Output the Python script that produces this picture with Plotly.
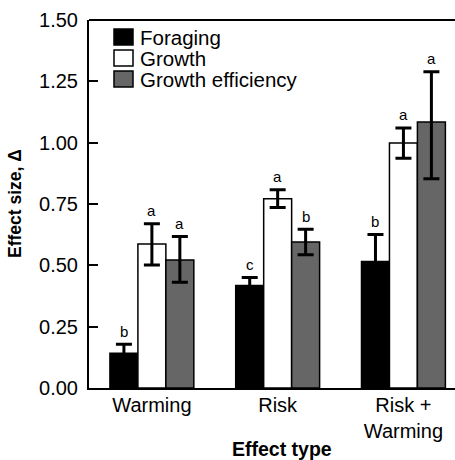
import plotly.graph_objects as go

categories = ["Warming", "Risk", "Risk +<br>Warming"]
series_names = ["Foraging", "Growth", "Growth efficiency"]
foraging = [0.142, 0.418, 0.516]
foraging_err = [0.036, 0.032, 0.110]
foraging_err_minus = [0.036, 0.032, 0.110]
growth = [0.587, 0.771, 0.999]
growth_err = [0.082, 0.037, 0.061]
growth_err_minus = [0.086, 0.035, 0.063]
efficiency = [0.522, 0.595, 1.084]
efficiency_err = [0.096, 0.052, 0.205]
efficiency_err_minus = [0.091, 0.052, 0.231]
letters_foraging = ["b", "c", "b"]
letters_growth = ["a", "a", "a"]
letters_efficiency = ["a", "b", "a"]
y_ticks = [0, 0.25, 0.5, 0.75, 1.0, 1.25, 1.5]

colors = ["#000000", "#ffffff", "#666666"]
FONT = "Liberation Sans, Arial, sans-serif"

# plot-area geometry (pixels)
W, H = 455, 460
ML, MT, MB, MR = 89, 20, 72, 0
PW = W - ML - MR
PH = H - MT - MB

def px_x(p):
    return (p - ML) / PW

def px_y(p):
    return (H - MB - p) / PH

xs = list(range(len(categories)))
fig = go.Figure()
series = [(foraging, foraging_err, foraging_err_minus),
          (growth, growth_err, growth_err_minus),
          (efficiency, efficiency_err, efficiency_err_minus)]
for name, (vals, errs, errs_m), col in zip(series_names, series, colors):
    fig.add_trace(go.Bar(
        x=xs, y=vals, name=name,
        marker=dict(color=col, line=dict(color="#000000", width=1.5)),
        error_y=dict(type="data", symmetric=False, array=errs, arrayminus=errs_m,
                     visible=True, color="#000000", thickness=3, width=8),
        showlegend=False,
    ))

bargap = 0.333
bw = (1 - bargap) / 3
annotations = []
letter_sets = [letters_foraging, letters_growth, letters_efficiency]
for k, ((vals, errs, _), lets) in enumerate(zip(series, letter_sets)):
    for i in xs:
        annotations.append(dict(
            x=i + (k - 1) * bw, y=vals[i] + errs[i], xref="x", yref="y",
            text=lets[i], showarrow=False, yanchor="middle", yshift=13,
            font=dict(family=FONT, size=15, color="#000000"),
        ))

# manual legend
leg_rows = [37, 58, 79]
shapes = []
for name, col, yc in zip(series_names, colors, leg_rows):
    shapes.append(dict(type="rect", xref="paper", yref="paper",
                       x0=px_x(114), x1=px_x(133), y0=px_y(yc + 8), y1=px_y(yc - 8),
                       fillcolor=col, line=dict(color="#000000", width=1.5)))
    annotations.append(dict(x=px_x(138), y=px_y(yc), xref="paper", yref="paper",
                            text=name, showarrow=False, xanchor="left", yanchor="middle",
                            font=dict(family=FONT, size=20.5, color="#000000")))

# top border
shapes.append(dict(type="line", xref="paper", yref="paper", x0=0, x1=1, y0=1, y1=1,
                   line=dict(color="#000000", width=2)))

# axis titles
annotations.append(dict(x=px_x(15), y=0.5, xref="paper", yref="paper",
                        text="<b>Effect size, Δ</b>", showarrow=False, textangle=-90,
                        xanchor="center", yanchor="middle",
                        font=dict(family=FONT, size=17.5, color="#000000")))
annotations.append(dict(x=px_x(282), y=px_y(449), xref="paper", yref="paper",
                        text="<b>Effect type</b>", showarrow=False,
                        xanchor="center", yanchor="middle",
                        font=dict(family=FONT, size=19.5, color="#000000")))

fig.update_layout(
    width=W, height=H,
    margin=dict(l=ML, r=MR, t=MT, b=MB, pad=0),
    paper_bgcolor="white", plot_bgcolor="white",
    barmode="group", bargap=bargap, bargroupgap=0,
    annotations=annotations, shapes=shapes,
    font=dict(family=FONT, color="#000000"),
    xaxis=dict(range=[-0.5, 2.41], tickvals=xs, ticktext=categories,
               showline=True, linecolor="#000000", linewidth=2,
               ticks="", showgrid=False, zeroline=False, ticklabelstandoff=-2,
               tickfont=dict(family=FONT, size=20, color="#000000")),
    yaxis=dict(range=[0, 1.5], tickvals=y_ticks, tickformat=".2f",
               showline=True, linecolor="#000000", linewidth=2,
               ticks="inside", ticklen=9, tickwidth=1.5, tickcolor="#000000",
               showgrid=False, zeroline=False, ticklabelstandoff=5,
               tickfont=dict(family=FONT, size=20, color="#000000")),
)

fig.write_html("out.html")
